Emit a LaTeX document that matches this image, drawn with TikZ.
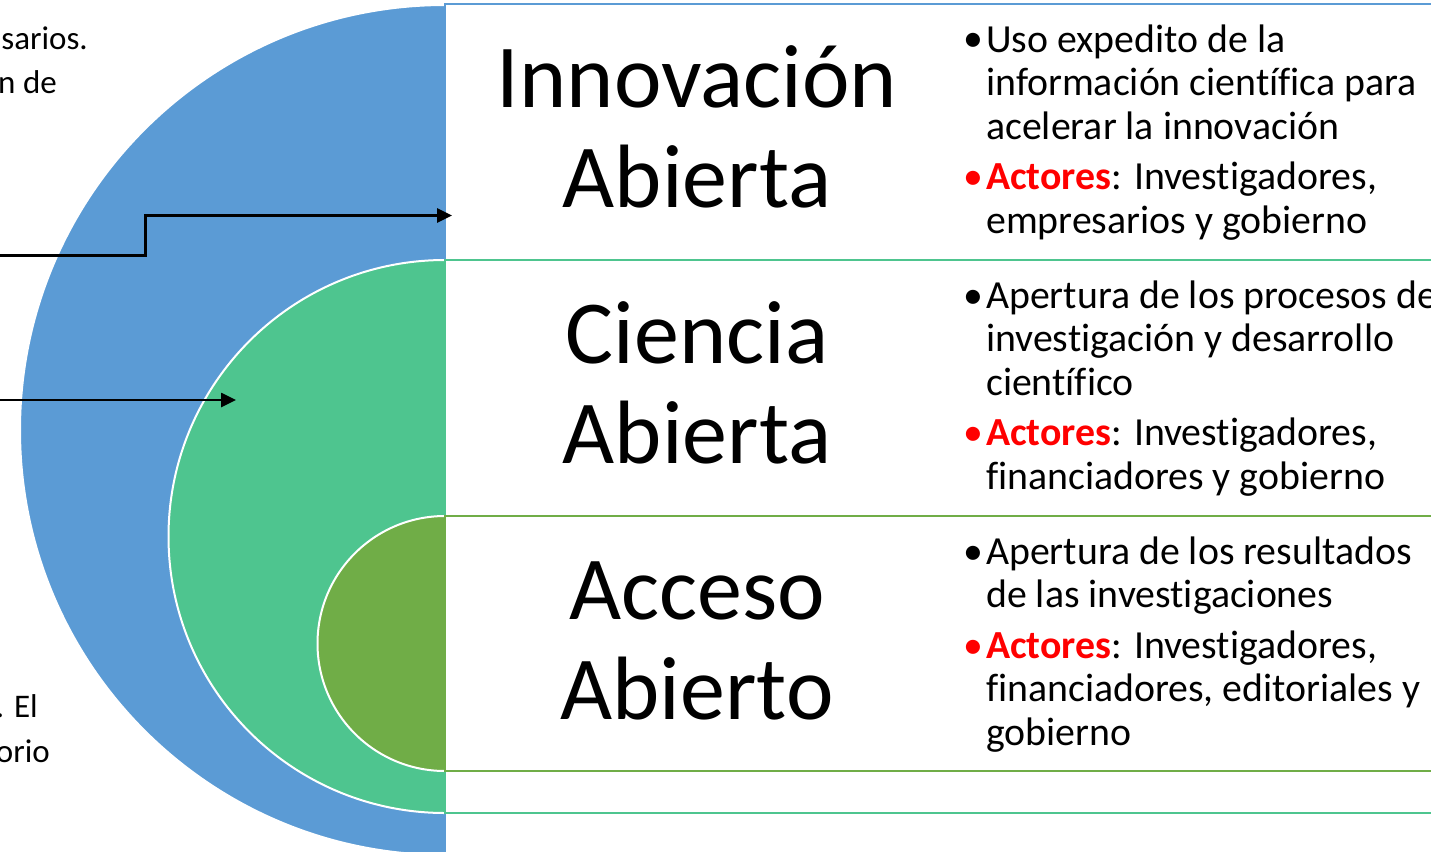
\documentclass[tikz,border=0pt]{standalone}
\usepackage{fontspec}
\setmainfont{Carlito}[Ligatures=NoCommon]
\usetikzlibrary{arrows.meta}
\definecolor{cblue}{HTML}{5B9BD5}
\definecolor{cgreen}{HTML}{4EC58F}
\definecolor{colive}{HTML}{70AD47}
\definecolor{cred}{HTML}{FF0000}
\begin{document}
\begin{tikzpicture}[x=1pt,y=-1pt,
  disc/.style={circle, draw=white, line width=2pt, inner sep=0pt, outer sep=0pt},
  band/.style={rectangle, fill=white, line width=2pt, inner sep=0pt, outer sep=0pt, anchor=north west, minimum width=1000pt},
  title/.style={font=\fontsize{90}{100}\selectfont, align=center, inner sep=0pt, anchor=base},
  body/.style={font=\fontsize{39.8}{43.5}\selectfont, align=left, inner sep=0pt, anchor=base west},
  bul/.style={font=\fontsize{39.8}{43.5}\selectfont, inner sep=0pt, anchor=base west},
  side/.style={font=\fontsize{33}{44}\selectfont, inner sep=0pt, anchor=base east},
  conn/.style={line width=2.6pt, -{Triangle[length=15pt,width=14pt]}},
]
\useasboundingbox (0,0) rectangle (1431,851);
\fill[white] (0,0) rectangle (1431,851);

% discs
\node[disc, fill=cblue, minimum size=850pt] (dblue) at (445,430) {};
\node[disc, fill=cgreen, minimum size=553pt] (dgreen) at (445,536.5) {};
\node[disc, fill=colive, minimum size=255pt] (dolive) at (445,643.5) {};

% bands
\node[band, draw=cblue, minimum height=856pt] (rblue) at (445,4) {};
\node[band, draw=cgreen, minimum height=553pt] (rgreen) at (445,260) {};
\node[band, draw=colive, minimum height=255pt] (rolive) at (445,516) {};

% titles (anchor = baseline of last line)
\node[title] (t1) at (697,207) {Innovación\\Abierta};
\node[title] (t2) at (697,463) {Ciencia\\Abierta};
\node[title] (t3) at (697,719) {Acceso\\Abierto};

% bullets band 1
\node[bul] (b1a) at (963,52) {•};
\node[body] (p1a) at (986,139) {Uso expedito de la\\información científica para\\acelerar la innovación};
\node[bul, text=cred] (b1b) at (963,189.5) {•};
\node[body] (p1b) at (986,233) {\textcolor{cred}{\textbf{Actores}}: Investigadores,\\empresarios y gobierno};

% bullets band 2
\node[bul] (b2a) at (963,308) {•};
\node[body] (p2a) at (986,395) {Apertura de los procesos de\\investigación y desarrollo\\científico};
\node[bul, text=cred] (b2b) at (963,445.5) {•};
\node[body] (p2b) at (986,489) {\textcolor{cred}{\textbf{Actores}}: Investigadores,\\financiadores y gobierno};

% bullets band 3
\node[bul] (b3a) at (963,564) {•};
\node[body] (p3a) at (986,607.5) {Apertura de los resultados\\de las investigaciones};
\node[bul, text=cred] (b3b) at (963,658) {•};
\node[body] (p3b) at (986,745) {\textcolor{cred}{\textbf{Actores}}: Investigadores,\\financiadores, editoriales y\\gobierno};

% side fragments
\node[side] (s1) at (88,49) {sarios.};
\node[side] (s2) at (57,93) {n de};
\node[side] (s3) at (38,717) {. El};
\node[side] (s4) at (50,762) {orio};

% connectors
\coordinate (a1s) at (0,255.5);
\coordinate (a1k) at (145.3,255.5);
\coordinate (a1e) at (452,215.5);
\draw[conn] (a1s) -- (a1k) |- (a1e);
\coordinate (a2s) at (0,400);
\coordinate (a2e) at (236,400);
\draw[conn] (a2s) -- (a2e);
\end{tikzpicture}
\end{document}
